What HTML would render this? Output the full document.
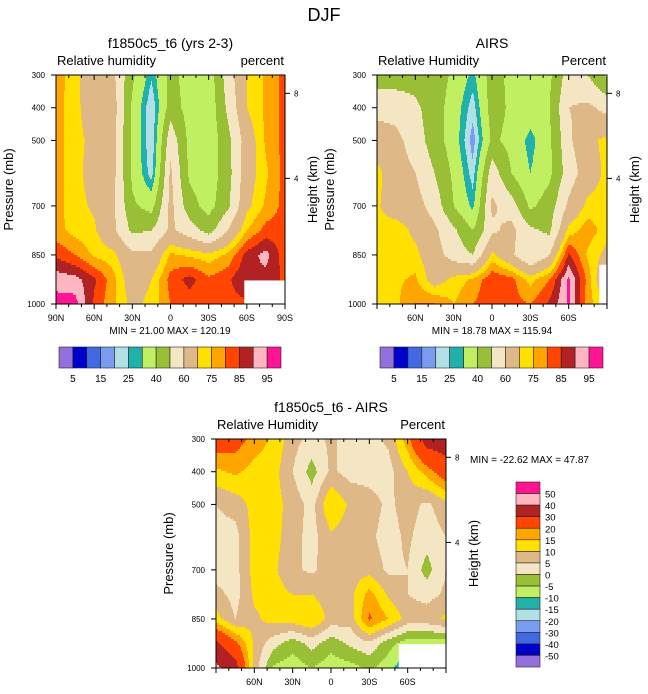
<!DOCTYPE html>
<html><head><meta charset="utf-8">
<style>
body{margin:0;background:#fff;}
svg{display:block;font-family:"Liberation Sans",sans-serif;}
</style></head>
<body>
<svg id="fig" width="648" height="694" viewBox="0 0 648 694">
<text x="324" y="21" font-size="18" text-anchor="middle">DJF</text>
</svg>
<script>
// ---- data ----
const lats = [90,75,60,45,30,15,0,-15,-30,-45,-60,-75,-90];
const pressures = [300,400,500,600,700,775,850,925,1000];
const rhLevels = [5,10,15,20,25,30,40,50,60,70,75,80,85,90,95];
const rhLabels = ["5","15","25","40","60","75","85","95"];
const diffLevels = [-50,-40,-30,-20,-15,-10,-5,0,5,10,15,20,30,40,50];
const diffLabels = ["50","40","30","20","15","10","5","0","-5","-10","-15","-20","-30","-40","-50"];
const colors = ["#9370DB","#0000CD","#4169E1","#7A9CF0","#B0E0E6","#20B2AA","#C0EF62","#98BF35","#F5E6C3","#DEB887","#FFE000","#FFA500","#FF4500","#B22222","#FFB6C1","#FF1493"];
const pressureTicks = [300,400,500,700,850,1000];
const heightTicks = [{km:"8",p:356},{km:"4",p:616}];
const modelRH = [
 [77,73,62,62,42,26,43,36,34,55,70,76,82],
 [77,72,65,65,38,20,45,36,33,52,70,76,82],
 [77,72,68,63,38,20,57,37,33,47,65,76,82],
 [77,72,67,63,38,22,62,38,34,46,66,74,82],
 [77,72,69,62,42,36,63,44,36,48,68,76,82],
 [77,73,71,62,48,50,62,55,46,60,75,82,82],
 [84,80,74,72,62,62,76,74,72,76,87,92,82],
 [93,92,86,77,65,70,82,87,81,84,90,88,84],
 [97,97,84,76,68,72,80,82,82,83,84,84,84]
];
const airsRH = [
 [45,45,46,46,38,28,45,37,37,38,55,50,38],
 [57,56,52,45,35,22,45,38,36,40,60,62,57],
 [65,63,55,45,35,17,42,37,27,38,58,68,72],
 [72,65,60,50,38,22,56,40,30,38,55,65,72],
 [71,65,64,56,40,28,62,55,38,45,62,72,73],
 [72,74,68,62,52,40,58,63,52,48,72,78,72],
 [72,72,72,64,56,50,72,62,50,60,86,74,68],
 [72,74,76,66,72,76,84,82,73,80,96,78,60],
 [72,74,80,80,75,80,84,82,80,86,96,77,70]
];
const diffRH = [
 [25,23,18,14,7,3,6,3,3,6,18,35,36],
 [14,16,13,12,5,-2,6,3,3,3,10,17,25],
 [5,7,12,12,8,3,15,9,7,4,7,4,8],
 [3,3,12,12,7,3,9,7,6,3,6,2,5],
 [2,3,12,11,6,4,8,8,8,4,5,-2,5],
 [7,3,11,12,10,10,7,8,17,9,5,3,6],
 [12,5,9,12,13,15,8,7,21,15,8,8,11],
 [32,22,9,2,-3,2,-3,1,4,-3,-8,-8,-8],
 [42,35,8,-6,-8,-5,-8,-7,-4,-8,-15,-15,-15]
];
// missing-data blocks: [latFrom, latTo, pFrom, pTo]
const missing1 = [-58,-90,928,1000];
const missing2 = [-84,-90,880,1000];
const missing3 = [-53,-90,927,1000];

const NS="http://www.w3.org/2000/svg";
const fig=document.getElementById('fig');
function el(tag,attrs,parent){const e=document.createElementNS(NS,tag);for(const k in attrs)e.setAttribute(k,attrs[k]);(parent||fig).appendChild(e);return e;}
function txt(s,attrs,parent){const e=el('text',attrs,parent);e.textContent=s;return e;}

function valueAt(grid,lat,p){
  let fx=(90-lat)/15; let i=Math.min(Math.floor(fx),lats.length-2); let tx=fx-i;
  let j=0; while(j<pressures.length-2 && p>pressures[j+1]) j++;
  let ty=(p-pressures[j])/(pressures[j+1]-pressures[j]);
  const a=grid[j][i],b=grid[j][i+1],c=grid[j+1][i],d=grid[j+1][i+1];
  return (a*(1-tx)+b*tx)*(1-ty)+(c*(1-tx)+d*tx)*ty;
}
function colorIndex(v,levels){let k=0;while(k<levels.length&&v>=levels[k])k++;return k;}

function panel(cfg){
  const {x0,x1,y0,y1,grid,levels,missing,name}=cfg;
  const g=el('g',{},fig);
  
  
  const xOf=lat=>x0+(90-lat)/180*(x1-x0);
  const yOf=p=>y0+(p-300)/700*(y1-y0);
  const latOf=x=>90-(x-x0)/(x1-x0)*180;
  const pOf=y=>300+(y-y0)/(y1-y0)*700;
  const cells=el('g',{'shape-rendering':'crispEdges'},g);
  
  
  for(let y=y0;y<y1;y+=2){
    const p=pOf(y+1);
    let runStart=x0,runC=-1;
    for(let x=x0;x<=x1;x++){
      let c=-2;
      if(x<x1){c=colorIndex(valueAt(grid,latOf(x+0.5),p),levels);}
      if(c!==runC){
        if(runC>=0){
          const r=el('rect',{x:runStart,y:y,width:x-runStart,height:Math.min(2,y1-y),fill:colors[runC]},cells);
          
          
        }
        runStart=x;runC=c;
      }
    }
  }
  const m=el('rect',{x:xOf(missing[0]),y:yOf(missing[2]),width:xOf(missing[1])-xOf(missing[0]),height:yOf(missing[3])-yOf(missing[2]),fill:'#fff'},g);
  
  
  const fr=el('rect',{x:x0,y:y0,width:x1-x0,height:y1-y0,fill:'none',stroke:'#000','stroke-width':1},g);
  
  
  for(let lat=90;lat>=-90;lat-=10){
    const major=lat%30===0; const x=xOf(lat); const L=major?5:3;
    el('line',{x1:x,x2:x,y1:y1,y2:y1+L,stroke:'#000'},g);
    el('line',{x1:x,x2:x,y1:y0,y2:y0+L,stroke:'#000'},g);
  }
  cfg.xLabels.forEach(lat=>{
    const s=lat===0?'0':(Math.abs(lat)+(lat>0?'N':'S'));
    const t=txt(s,{x:xOf(lat),y:y1+17,'font-size':9,'text-anchor':'middle'},g);
    
    
  });
  pressureTicks.forEach(p=>{
    const y=yOf(p);
    el('line',{x1:x0-5,x2:x0,y1:y,y2:y,stroke:'#000'},g);
    const t=txt(String(p),{x:x0-11,y:y+3,'font-size':8,'text-anchor':'end'},g);
    
    
  });
  heightTicks.forEach(h=>{
    const y=yOf(h.p);
    el('line',{x1:x1,x2:x1+5,y1:y,y2:y,stroke:'#000'},g);
    const t=txt(h.km,{x:x1+9,y:y+3,'font-size':8},g);
    
    
  });
  const yt=txt('Pressure (mb)',{x:0,y:0,'font-size':13,'text-anchor':'middle',transform:`translate(${x0-43},${(y0+y1)/2}) rotate(-90)`},g);
  
  
  const ht=txt('Height (km)',{x:0,y:0,'font-size':13,'text-anchor':'middle',transform:`translate(${x1+32},${(y0+y1)/2}) rotate(-90)`},g);
  
  
  const tt=txt(cfg.title,{x:(x0+x1)/2,y:y0-27,'font-size':14,'text-anchor':'middle'},g);
  
  
  const lt=txt(cfg.left,{x:x0+1,y:y0-10,'font-size':13},g);
  
  
  const rt=txt(cfg.right,{x:x1-1,y:y0-10,'font-size':13,'text-anchor':'end'},g);
  
  
}

panel({name:'model-panel',x0:56,x1:285,y0:75,y1:304,grid:modelRH,levels:rhLevels,missing:missing1,xLabels:[90,60,30,0,-30,-60,-90],title:'f1850c5_t6 (yrs 2-3)',left:'Relative humidity',right:'percent'});
panel({name:'airs-panel',x0:377,x1:607,y0:75,y1:304,grid:airsRH,levels:rhLevels,missing:missing2,xLabels:[60,30,0,-30,-60],title:'AIRS',left:'Relative Humidity',right:'Percent'});
panel({name:'diff-panel',x0:216,x1:446,y0:439,y1:668,grid:diffRH,levels:diffLevels,missing:missing3,xLabels:[60,30,0,-30,-60],title:'f1850c5_t6 - AIRS',left:'Relative Humidity',right:'Percent'});

[['MIN =  21.00   MAX = 120.19',170,334,'middle'],['MIN =  18.78   MAX = 115.94',492,334,'middle'],['MIN = -22.62   MAX =  47.87',470,463,'start']].forEach(a=>{
  const t=txt(a[0],{x:a[1],y:a[2],'font-size':10,'text-anchor':a[3],'xml:space':'preserve'});
  
  
});

function hbar(x0,x1,y0,y1,name){
  const g=el('g',{});
  
  
  const w=(x1-x0)/colors.length;
  colors.forEach((c,i)=>{
    const r=el('rect',{x:x0+i*w,y:y0,width:w,height:y1-y0,fill:c,stroke:'#222','stroke-width':0.6},g);
    
    
  });
  rhLabels.forEach((s,k)=>{
    const t=txt(s,{x:x0+(2*k+1)*w,y:y1+14,'font-size':10,'text-anchor':'middle'},g);
    
    
  });
}
hbar(59,281,347,368,'colorbar-model');
hbar(380,603,347,368,'colorbar-airs');

(function(){
  const x0=516,x1=540,y0=482,y1=667;
  const g=el('g',{});
  
  
  const h=(y1-y0)/colors.length;
  colors.slice().reverse().forEach((c,i)=>{
    const r=el('rect',{x:x0,y:y0+i*h,width:x1-x0,height:h,fill:c,stroke:'#222','stroke-width':0.6},g);
    
    
  });
  diffLabels.forEach((s,k)=>{
    const t=txt(s,{x:545,y:y0+(k+1)*h+4,'font-size':9.5},g);
    
    
  });
})();
</script>
</body></html>
